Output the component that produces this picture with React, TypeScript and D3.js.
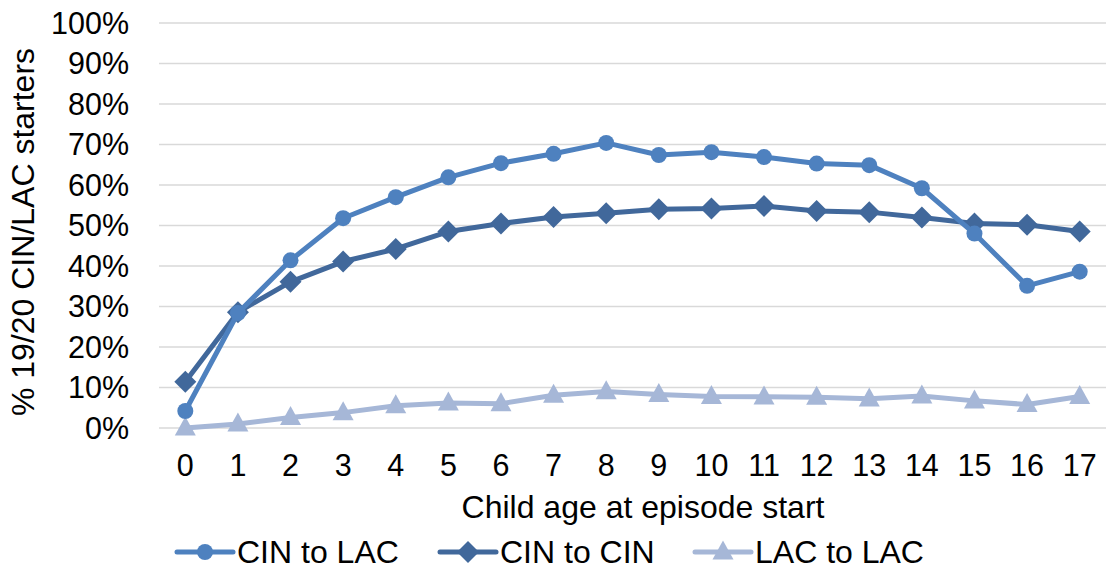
import React from "react";
import * as d3 from "d3";

const ages: string[] = ["0","1","2","3","4","5","6","7","8","9","10","11","12","13","14","15","16","17"];
const cinToLac: number[] = [4.2, 28.4, 41.4, 51.8, 57.0, 61.9, 65.4, 67.7, 70.4, 67.4, 68.1, 66.9, 65.3, 64.9, 59.2, 48.0, 35.1, 38.6];
const cinToCin: number[] = [11.4, 28.6, 36.1, 41.1, 44.2, 48.5, 50.5, 52.1, 53.0, 54.0, 54.2, 54.8, 53.6, 53.3, 52.0, 50.5, 50.2, 48.5];
const lacToLac: number[] = [0.0, 1.0, 2.6, 3.8, 5.5, 6.2, 6.0, 8.1, 9.0, 8.3, 7.8, 7.7, 7.6, 7.2, 7.9, 6.7, 5.8, 7.8];
const yTicks: number[] = [0, 10, 20, 30, 40, 50, 60, 70, 80, 90, 100];
const seriesNames: string[] = ["CIN to LAC", "CIN to CIN", "LAC to LAC"];

const W = 1116, H = 569;
const FONT = "'Liberation Sans', Arial, sans-serif";
const colors = ["#4E81BF", "#41689B", "#A6B7D7"];

export default function App() {
  const x = d3.scaleBand<string>().domain(ages).range([159, 1106]);
  const y = d3.scaleLinear().domain([0, 100]).range([428, 23]);
  const cx = (a: string) => (x(a) as number) + x.bandwidth() / 2;
  const line = d3.line<number>().x((_, i) => cx(ages[i])).y(d => y(d));
  const data = [cinToLac, cinToCin, lacToLac];

  const marker = (k: number, px: number, py: number, key: string, scale = 1) => {
    const c = colors[k];
    if (k === 0) return <circle key={key} cx={px} cy={py} r={8 * scale} fill={c} />;
    if (k === 1) {
      const s = 11 * scale;
      return <path key={key} d={`M${px},${py - s}L${px + s},${py}L${px},${py + s}L${px - s},${py}Z`} fill={c} />;
    }
    const h = 19 * scale, w = 21 * scale;
    return <path key={key} d={`M${px},${py - h * 0.6}L${px + w / 2},${py + h * 0.4}L${px - w / 2},${py + h * 0.4}Z`} fill={c} />;
  };

  const legendX = [177, 440, 695];

  return (
    <svg width={W} height={H} style={{ position: "absolute", left: 0, top: 0, background: "#fff" }} fontFamily={FONT}>
      {yTicks.map(t => (
        <g key={t}>
          <line x1={159} x2={1106} y1={y(t)} y2={y(t)} stroke="#D9D9D9" strokeWidth={1.5} />
          <text x={129} y={y(t) + 10.5} textAnchor="end" fontSize={30.5} fill="#000">{t}%</text>
        </g>
      ))}
      {ages.map(a => (
        <text key={a} x={cx(a)} y={476} textAnchor="middle" fontSize={30.5} fill="#000">{a}</text>
      ))}
      <text x={643} y={518} textAnchor="middle" fontSize={32} fill="#000">Child age at episode start</text>
      <text transform={`translate(34,232) rotate(-90)`} textAnchor="middle" fontSize={32} fill="#000">% 19/20 CIN/LAC starters</text>
      {[2, 1, 0].map(k => (
        <g key={k}>
          <path d={line(data[k]) || ""} fill="none" stroke={colors[k]} strokeWidth={5} strokeLinejoin="round" />
          {data[k].map((v, i) => marker(k, cx(ages[i]), y(v), `${k}-${i}`))}
        </g>
      ))}
      {seriesNames.map((n, k) => (
        <g key={n}>
          <line x1={legendX[k]} x2={legendX[k] + 56} y1={552} y2={552} stroke={colors[k]} strokeWidth={5} strokeLinecap="round" />
          {marker(k, legendX[k] + 28, 552, `lg${k}`)}
          <text x={legendX[k] + 60} y={563} fontSize={32} fill="#000">{n}</text>
        </g>
      ))}
    </svg>
  );
}
